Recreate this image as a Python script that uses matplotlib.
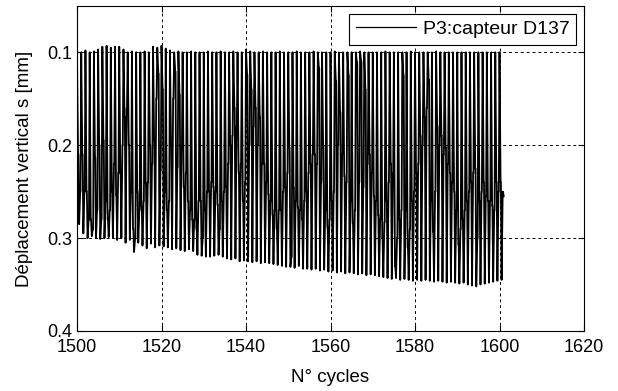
import numpy as np
import matplotlib
matplotlib.use("Agg")
import matplotlib.pyplot as plt

plt.rcParams["font.family"] = ["Liberation Sans", "DejaVu Sans"]

# ---------------- données (une valeur par cycle) ----------------
cycles = list(range(1500, 1601))

# déplacement minimal (haut de chaque cycle) [mm]
tops = [0.103, 0.100, 0.098, 0.100, 0.099, 0.097, 0.094, 0.093, 0.095, 0.094,
        0.094, 0.097, 0.100, 0.099, 0.100, 0.100, 0.099, 0.100, 0.094, 0.095,
        0.093, 0.096, 0.098, 0.100, 0.099, 0.100, 0.100, 0.099, 0.100, 0.100,
        0.100, 0.099, 0.100, 0.100, 0.099, 0.100, 0.100, 0.099, 0.100, 0.100,
        0.097, 0.099, 0.100, 0.100, 0.099, 0.100, 0.100, 0.100, 0.099, 0.100,
        0.100, 0.100, 0.099, 0.100, 0.100, 0.100, 0.099, 0.100, 0.100, 0.100,
        0.100, 0.099, 0.100, 0.100, 0.100, 0.100, 0.100, 0.099, 0.100, 0.100,
        0.100, 0.100, 0.100, 0.099, 0.100, 0.100, 0.100, 0.100, 0.100, 0.099,
        0.100, 0.100, 0.100, 0.100, 0.100, 0.099, 0.100, 0.100, 0.100, 0.100,
        0.100, 0.100, 0.100, 0.100, 0.100, 0.100, 0.100, 0.100, 0.100, 0.100,
        0.100]

# déplacement maximal (bas de chaque cycle) [mm]
bottoms = [0.285, 0.295, 0.300, 0.298, 0.300, 0.301, 0.300, 0.299, 0.300, 0.302,
           0.300, 0.305, 0.302, 0.315, 0.305, 0.308, 0.311, 0.306, 0.310, 0.308,
           0.309, 0.310, 0.312, 0.311, 0.313, 0.314, 0.312, 0.314, 0.318, 0.319,
           0.320, 0.320, 0.319, 0.318, 0.320, 0.322, 0.323, 0.322, 0.325, 0.324,
           0.325, 0.326, 0.325, 0.327, 0.326, 0.327, 0.328, 0.329, 0.330, 0.331,
           0.331, 0.332, 0.330, 0.333, 0.333, 0.334, 0.333, 0.335, 0.334, 0.336,
           0.335, 0.337, 0.336, 0.338, 0.337, 0.338, 0.339, 0.338, 0.340, 0.339,
           0.340, 0.341, 0.342, 0.343, 0.344, 0.343, 0.345, 0.344, 0.345, 0.346,
           0.345, 0.346, 0.345, 0.346, 0.347, 0.346, 0.347, 0.348, 0.347, 0.348,
           0.349, 0.348, 0.350, 0.351, 0.352, 0.350, 0.349, 0.348, 0.347, 0.346,
           0.345]

# paliers intermédiaires (points noirs) en descente / en montée [mm]
jog_down = [0.21, 0.21, 0.25, 0.28, 0.213, 0.20, 0.195, 0.28, 0.25, 0.254,
            0.23, 0.17, 0.20, 0.29, 0.25, 0.266, 0.241, 0.20, 0.195, 0.123,
            0.14, 0.27, 0.20, 0.121, 0.146, 0.245, 0.26, 0.28, 0.29, 0.26,
            0.27, 0.25, 0.245, 0.264, 0.26, 0.245, 0.20, 0.16, 0.23, 0.26,
            0.124, 0.14, 0.16, 0.17, 0.22, 0.253, 0.275, 0.29, 0.27, 0.245,
            0.203, 0.246, 0.267, 0.28, 0.25, 0.22, 0.21, 0.117, 0.20, 0.288,
            0.26, 0.131, 0.165, 0.233, 0.125, 0.284, 0.111, 0.11, 0.14, 0.21,
            0.255, 0.275, 0.30, 0.26, 0.22, 0.33, 0.28, 0.125, 0.31, 0.26,
            0.23, 0.19, 0.17, 0.13, 0.293, 0.18, 0.19, 0.203, 0.23, 0.25,
            0.307, 0.28, 0.26, 0.24, 0.225, 0.26, 0.24, 0.26, 0.265, 0.24,
            0.24]
jog_up = [0.25, 0.25, 0.28, 0.29, 0.27, 0.28, 0.26, 0.27, 0.22, 0.23,
          0.20, 0.16, 0.25, 0.30, 0.27, 0.26, 0.24, 0.22, 0.15, 0.227,
          0.25, 0.26, 0.15, 0.224, 0.20, 0.23, 0.27, 0.28, 0.26, 0.30,
          0.25, 0.24, 0.25, 0.29, 0.25, 0.22, 0.19, 0.18, 0.22, 0.24,
          0.20, 0.18, 0.20, 0.22, 0.24, 0.26, 0.27, 0.27, 0.25, 0.23,
          0.32, 0.26, 0.27, 0.26, 0.23, 0.21, 0.22, 0.24, 0.27, 0.28,
          0.25, 0.20, 0.21, 0.24, 0.26, 0.27, 0.24, 0.245, 0.22, 0.23,
          0.26, 0.28, 0.283, 0.24, 0.23, 0.30, 0.27, 0.27, 0.29, 0.25,
          0.22, 0.20, 0.16, 0.26, 0.25, 0.20, 0.21, 0.22, 0.24, 0.27,
          0.29, 0.27, 0.25, 0.23, 0.30, 0.25, 0.255, 0.26, 0.27, 0.25,
          0.25]
last_value = 0.255   # dernier échantillon, après le cycle 1600

# position des échantillons à l'intérieur d'un cycle
PHASE_TOP, PHASE_JD, PHASE_BOT, PHASE_JU = 0.0, 0.25, 0.5, 0.75
JOG_W = 0.08
# -----------------------------------------------------------------------------------

xs, ys = [], []
for n, t, jd, b, ju in zip(cycles, tops, jog_down, bottoms, jog_up):
    xs += [n + PHASE_TOP, n + PHASE_JD, n + PHASE_JD + JOG_W, n + PHASE_BOT,
           n + PHASE_JU, n + PHASE_JU + JOG_W]
    ys += [t, jd, jd, b, ju, ju]
xs.append(cycles[-1] + 1)
ys.append(last_value)

fig = plt.figure(figsize=(6.18, 3.91), dpi=100)
ax = fig.add_axes([0.1246, 0.1535, 0.8204, 0.8315])

ax.plot(xs, ys, color="black", lw=1.3, label="P3:capteur D137")

ax.set_xlim(1500, 1620)
ax.set_ylim(0.4, 0.05)
ax.set_xticks(np.arange(1500, 1621, 20))
ax.set_yticks([0.1, 0.2, 0.3, 0.4])
ax.set_yticklabels(["0.1", "0.2", "0.3", "0.4"])
ax.grid(True, color="black", linestyle=(0, (3, 3)), linewidth=0.7)
ax.tick_params(direction="in", top=True, right=True, labelsize=13, length=4,
               colors="black")
ax.tick_params(axis="x", pad=6)
for s in ax.spines.values():
    s.set_linewidth(0.8)

ax.set_xlabel("N° cycles", fontsize=13.5, labelpad=9)
ax.set_ylabel("Déplacement vertical s [mm]", fontsize=13.5, labelpad=10)

leg = ax.legend(loc="upper right", fontsize=14, fancybox=False, framealpha=1,
                edgecolor="black", handlelength=3.1, handletextpad=0.35,
                borderaxespad=0.4, borderpad=0.35)
leg.get_frame().set_linewidth(0.8)
for h in leg.get_lines():
    h.set_linewidth(0.9)

fig.savefig("out.png", dpi=100)
